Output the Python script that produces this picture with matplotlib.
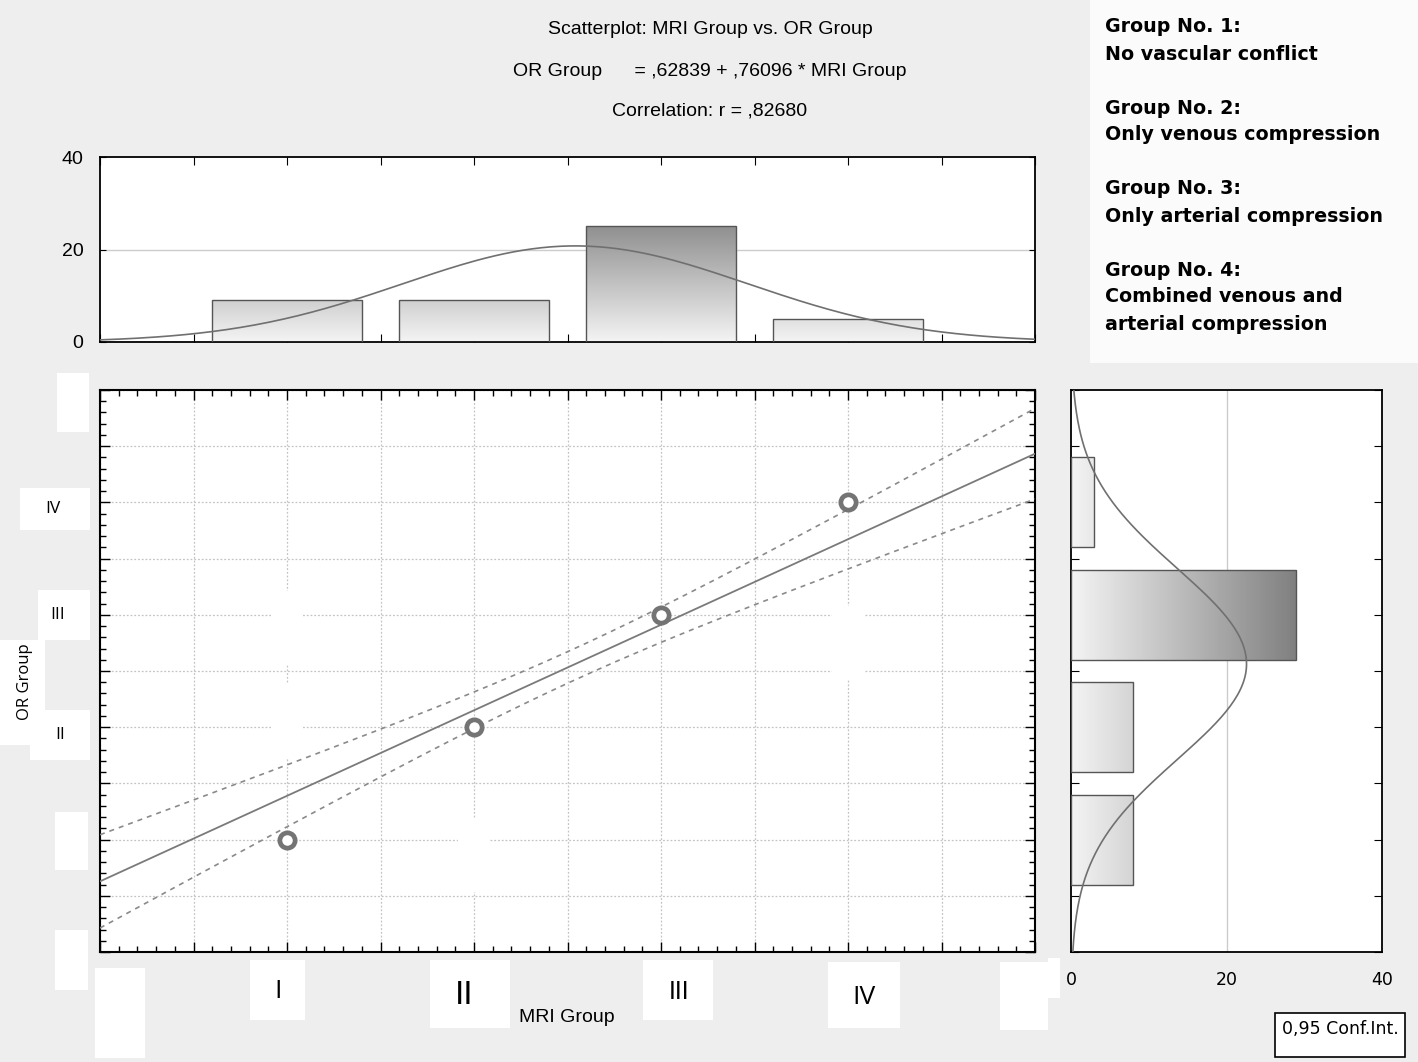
import numpy as np
import matplotlib
matplotlib.use("Agg")
import matplotlib.pyplot as plt
from matplotlib.colors import LinearSegmentedColormap
from matplotlib.patches import Rectangle

# data
groups = [1, 2, 3, 4]
mri_counts = [9, 9, 25, 5]          # top histogram (MRI Group)
or_counts = [8, 8, 29, 3]           # right histogram (OR Group)
pts_x = [1, 2, 3, 4]                # visible scatter points
pts_y = [1, 2, 3, 4]
intercept = 0.62839
slope = 0.76096
r_value = 0.82680
t_crit = 2.0129                     # t(0.975, df=46)

x_labels = ["I", "II", "III", "IV"]
y_labels = ["IV", "III", "II"]
legend_lines = [
    ("Group No. 1:", "No vascular conflict"),
    ("Group No. 2:", "Only venous compression"),
    ("Group No. 3:", "Only arterial compression"),
    ("Group No. 4:", "Combined venous and", "arterial compression"),
]
# spots where the grid was wiped white in the original
erased_x = [1, 1, 2, 4]
erased_y = [2.88, 2.06, 0.86, 2.75]

W, H = 1418, 1062
fig = plt.figure(figsize=(W / 100, H / 100), dpi=100, facecolor="#eeeeee")


def fbox(x0, y0, x1, y1, color="white"):
    # rectangle given in picture pixels
    fig.patches.append(Rectangle((x0 / W, 1 - y1 / H), (x1 - x0) / W, (y1 - y0) / H,
                                 transform=fig.transFigure, facecolor=color,
                                 edgecolor="none", zorder=-1))


def ftext(x, y, s, **kw):
    fig.text(x / W, 1 - y / H, s, **kw)


def axes_px(x0, y0, x1, y1):
    return fig.add_axes([x0 / W, 1 - y1 / H, (x1 - x0) / W, (y1 - y0) / H])


# white patches of the original layout
fbox(1090, 0, 1418, 363, "#fbfbfb")
for b in [(57, 373, 89, 432), (20, 488, 90, 530), (38, 590, 90, 640), (0, 640, 45, 745),
          (30, 710, 90, 760), (55, 812, 88, 870), (55, 930, 88, 990),
          (95, 968, 145, 1058), (250, 960, 305, 1020), (430, 960, 510, 1028),
          (643, 960, 713, 1020), (828, 962, 900, 1028), (1000, 962, 1048, 1030),
          (1048, 958, 1060, 998)]:
    fbox(*b)

gray_cm = LinearSegmentedColormap.from_list("g", ["#f4f4f4", "#7c7c7c"])
n = sum(mri_counts)


def normal_fit(counts):
    v = np.repeat(groups, counts).astype(float)
    return v.mean(), v.std(ddof=1)


# ---------------- main scatter ----------------
ax = axes_px(100, 390, 1035, 952)
ax.set_xlim(0, 5)
ax.set_ylim(0, 5)
ax.set_xticks(np.arange(0, 5.01, 0.5))
ax.set_yticks(np.arange(0, 5.01, 0.5))
ax.set_xticks(np.arange(0, 5.01, 0.1), minor=True)
ax.set_yticks(np.arange(0, 5.01, 0.1), minor=True)
ax.tick_params(which="both", direction="in", top=True, right=True,
               labelbottom=False, labelleft=False, width=1, color="black")
ax.tick_params(which="major", length=7)
ax.tick_params(which="minor", length=4)
ax.grid(which="major", color="#c4c4c4", linestyle=(0, (1.5, 1.5)), lw=0.9)
for sp in ax.spines.values():
    sp.set_linewidth(1.5)

for ex, ey in zip(erased_x, erased_y):
    ax.add_patch(Rectangle((ex - 0.085, ey - 0.33), 0.17, 0.66, facecolor="white",
                           edgecolor="none", zorder=2))

mx, sx = normal_fit(mri_counts)
my, sy = normal_fit(or_counts)
sxx = sx ** 2 * (n - 1)
syy = sy ** 2 * (n - 1)
s_res = np.sqrt(syy * (1 - r_value ** 2) / (n - 2))
xx = np.linspace(0, 5, 200)
fit = intercept + slope * xx
half = t_crit * s_res * np.sqrt(1 / n + (xx - mx) ** 2 / sxx)
ax.plot(xx, fit, color="#7a7a7a", lw=1.3, zorder=3)
ax.plot(xx, fit + half, color="#8a8a8a", lw=1.2, ls=(0, (3, 3)), zorder=3)
ax.plot(xx, fit - half, color="#8a8a8a", lw=1.2, ls=(0, (3, 3)), zorder=3)
ax.plot(pts_x, pts_y, "o", ms=11, mfc="white", mec="#747474", mew=3.4, zorder=4)

# ---------------- top histogram ----------------
axt = axes_px(100, 157, 1035, 342)
for g, c in zip(groups, mri_counts):
    bar = axt.bar(g, c, width=0.8, facecolor="none", edgecolor="#555555", lw=1, zorder=3)[0]
    im = axt.imshow(np.linspace(0, c, 256).reshape(-1, 1), extent=[g - 0.4, g + 0.4, 0, c],
                    origin="lower", cmap=gray_cm, vmin=0, vmax=30, aspect="auto", zorder=2)
    im.set_clip_path(bar)
axt.plot(xx, n * np.exp(-0.5 * ((xx - mx) / sx) ** 2) / (sx * np.sqrt(2 * np.pi)),
         color="#707070", lw=1.2, zorder=4)
axt.axhline(20, color="#cccccc", lw=1, zorder=1)
axt.set_xlim(0, 5)
axt.set_ylim(0, 40)
axt.set_xticks(np.arange(0, 5.01, 0.5))
axt.set_yticks([0, 20, 40])
axt.tick_params(axis="x", direction="in", top=True, labelbottom=False, length=6)
axt.tick_params(axis="y", direction="in", right=True, length=4, pad=12)
for lab in axt.get_yticklabels():
    lab.set_fontfamily("Liberation Sans")
    lab.set_fontsize(14)
for sp in axt.spines.values():
    sp.set_linewidth(1.3)

# ---------------- right histogram ----------------
axr = axes_px(1071, 390, 1382, 952)
for g, c in zip(groups, or_counts):
    bar = axr.barh(g, c, height=0.8, facecolor="none", edgecolor="#555555", lw=1, zorder=3)[0]
    im = axr.imshow(np.linspace(0, c, 256).reshape(1, -1), extent=[0, c, g - 0.4, g + 0.4],
                    origin="lower", cmap=gray_cm, vmin=0, vmax=30, aspect="auto", zorder=2)
    im.set_clip_path(bar)
yy = np.linspace(0, 5, 200)
axr.plot(n * np.exp(-0.5 * ((yy - my) / sy) ** 2) / (sy * np.sqrt(2 * np.pi)), yy,
         color="#707070", lw=1.2, zorder=4)
axr.axvline(20, color="#cccccc", lw=1, zorder=1)
axr.set_xlim(0, 40)
axr.set_ylim(0, 5)
axr.set_xticks([0, 20, 40])
axr.set_yticks(np.arange(0, 5.01, 0.5))
axr.tick_params(axis="y", direction="in", right=True, labelleft=False, length=6)
axr.tick_params(axis="x", length=0, pad=14)
for lab in axr.get_xticklabels():
    lab.set_fontfamily("DejaVu Sans")
    lab.set_fontsize(12.5)
for sp in axr.spines.values():
    sp.set_linewidth(1.3)

# ---------------- texts ----------------
ftext(710, 30, "Scatterplot: MRI Group vs. OR Group", ha="center", va="center",
      family="Liberation Sans", fontsize=14)
ftext(710, 71, "OR Group      = ,62839 + ,76096 * MRI Group", ha="center", va="center",
      family="Liberation Sans", fontsize=14)
ftext(710, 111, "Correlation: r = ,82680", ha="center", va="center",
      family="Liberation Sans", fontsize=14)

y0 = 27
for block in legend_lines:
    for line in block:
        ftext(1105, y0, line, ha="left", va="center", family="DejaVu Sans",
              weight="bold", fontsize=13.7)
        y0 += 27
    y0 += 27

for lab, (px, py) in zip(y_labels, [(53, 509), (58, 615), (60, 735)]):
    ftext(px, py, lab, ha="center", va="center", family="Open Sans", fontsize=12.5)
ftext(25, 682, "OR Group", ha="center", va="center", rotation=90,
      family="Open Sans", fontsize=12)

x_pos = [(278, 992, 19, "Open Sans"), (464, 995, 24, "Liberation Sans"),
         (679, 992, 18, "Liberation Sans"), (864, 997, 19, "Open Sans")]
for lab, (px, py, fs, fam) in zip(x_labels, x_pos):
    ftext(px, py, lab, ha="center", va="center", family=fam, fontsize=fs)
ftext(567, 1017, "MRI Group", ha="center", va="center", family="Liberation Sans", fontsize=14)

fig.patches.append(Rectangle((1275 / W, 1 - 1057 / H), 130 / W, 44 / H,
                             transform=fig.transFigure, facecolor="white",
                             edgecolor="black", lw=1.2, zorder=2))
ftext(1340, 1029, "0,95 Conf.Int.", ha="center", va="center", family="DejaVu Sans",
      fontsize=12.5, zorder=3)

fig.savefig("out.png", dpi=100, facecolor=fig.get_facecolor())
